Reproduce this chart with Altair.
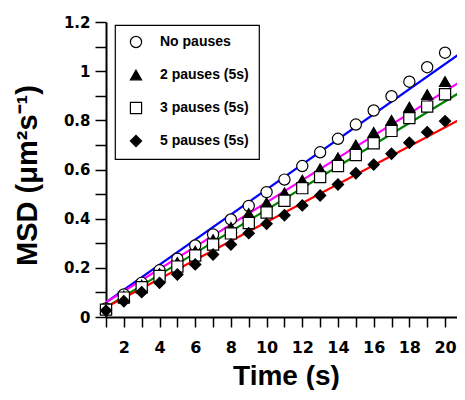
import altair as alt
import pandas as pd

# ---- data ----
times = list(range(1, 21))
series = ["No pauses", "2 pauses (5s)", "3 pauses (5s)", "5 pauses (5s)"]
msd_no_pause = [0.035, 0.092, 0.139, 0.190, 0.237, 0.291, 0.336, 0.397, 0.452, 0.508,
                0.559, 0.614, 0.670, 0.725, 0.783, 0.840, 0.898, 0.957, 1.016, 1.075]
msd_2_pauses = [0.035, 0.085, 0.130, 0.177, 0.222, 0.268, 0.315, 0.365, 0.421, 0.465,
                0.505, 0.557, 0.603, 0.648, 0.700, 0.751, 0.800, 0.854, 0.905, 0.958]
msd_3_pauses = [0.030, 0.079, 0.121, 0.167, 0.205, 0.250, 0.295, 0.340, 0.382, 0.425,
                0.473, 0.524, 0.569, 0.614, 0.659, 0.707, 0.757, 0.809, 0.856, 0.906]
msd_5_pauses = [0.026, 0.064, 0.101, 0.139, 0.173, 0.214, 0.254, 0.295, 0.341, 0.379,
                0.414, 0.454, 0.494, 0.539, 0.585, 0.620, 0.664, 0.709, 0.752, 0.797]

# fitted straight lines: value at start and end time
fit_times = [1, 21]
fit_no_pause = [0.060, 1.080]
fit_2_pauses = [0.060, 0.964]
fit_3_pauses = [0.040, 0.921]
fit_5_pauses = [0.040, 0.810]

x_ticks = list(range(1, 22))
y_ticks = [round(i * 0.1, 1) for i in range(13)]

shapes = ["circle", "triangle-up", "square", "diamond"]
fills = ["white", "black", "white", "black"]
strokes = ["black", "black", "black", "black"]
line_colors = ["#0000ff", "#ff00ff", "#008000", "#ff0000"]

# ---- tables ----
all_msd = [msd_no_pause, msd_2_pauses, msd_3_pauses, msd_5_pauses]
all_fit = [fit_no_pause, fit_2_pauses, fit_3_pauses, fit_5_pauses]

pts = pd.DataFrame(
    [{"t": t, "msd": v, "series": s} for s, vals in zip(series, all_msd) for t, v in zip(times, vals)]
)
fits = pd.DataFrame(
    [{"t": t, "msd": v, "fit": s} for s, vals in zip(series, all_fit) for t, v in zip(fit_times, vals)]
)

LABEL_FONT = "DejaVu Sans"
TITLE_FONT = "Liberation Sans"

x_enc = alt.X(
    "t:Q",
    scale=alt.Scale(domain=[1, 20.67], nice=False, zero=False),
    axis=alt.Axis(
        title="Time (s)",
        values=x_ticks,
        labelExpr="datum.value % 2 == 0 ? datum.label : ''",
        tickSize=10,
        labelPadding=12,
        labelFontSize=16,
        titleX=180,
        titleY=67,
        titleBaseline="alphabetic",
        titleAlign="center",
        titleFontSize=28,
    ),
)
y_enc = alt.Y(
    "msd:Q",
    scale=alt.Scale(domain=[0, 1.2], nice=False),
    axis=alt.Axis(
        title="MSD (μm²s⁻¹)",
        values=y_ticks,
        labelExpr="round(datum.value * 10) % 2 == 0 ? format(datum.value, '~g') : ''",
        tickSize=11,
        labelPadding=5,
        labelFontSize=15,
        titleX=-70,
        titleY=153,
        titleBaseline="alphabetic",
        titleAlign="center",
        titleFontSize=29,
    ),
)

lines = alt.Chart(fits).mark_line(strokeWidth=2.2, clip=True).encode(
    x=x_enc,
    y=y_enc,
    color=alt.Color("fit:N", scale=alt.Scale(domain=series, range=line_colors), legend=None),
    detail="fit:N",
)

points = alt.Chart(pts).mark_point(
    filled=True, size=125, opacity=1, strokeWidth=1.2
).encode(
    x=x_enc,
    y=y_enc,
    shape=alt.Shape("series:N", scale=alt.Scale(domain=series, range=shapes), legend=alt.Legend(title=None)),
    fill=alt.Fill("series:N", scale=alt.Scale(domain=series, range=fills), legend=alt.Legend(title=None)),
    stroke=alt.Stroke("series:N", scale=alt.Scale(domain=series, range=strokes), legend=alt.Legend(title=None)),
)

chart = (
    alt.layer(lines, points)
    .resolve_scale(color="independent")
    .properties(
        width=351,
        height=295,
        autosize=alt.AutoSizeParams(type="none"),
        padding={"left": 98, "top": 14, "right": 0, "bottom": 73},
        background="white",
    )
    .configure_view(stroke=None)
    .configure_axis(
        grid=False,
        domainColor="black",
        domainWidth=2,
        tickColor="black",
        tickWidth=1.5,
        labelFont=LABEL_FONT,
        labelFontWeight="bold",
        labelColor="black",
        titleFont=TITLE_FONT,
        titleFontWeight="bold",
        titleColor="black",
    )
    .configure_legend(
        orient="none",
        legendX=9,
        legendY=3,
        padding=10,
        strokeColor="black",
        strokeWidth=1.2,
        fillColor="white",
        labelFont=TITLE_FONT,
        labelFontWeight="bold",
        labelFontSize=14,
        labelColor="black",
        labelLimit=300,
        symbolSize=125,
        symbolStrokeWidth=1.2,
        symbolOffset=4,
        labelOffset=17,
        rowPadding=17,
    )
)

chart.save("out.html", embed_options={"renderer": "svg", "actions": False})
